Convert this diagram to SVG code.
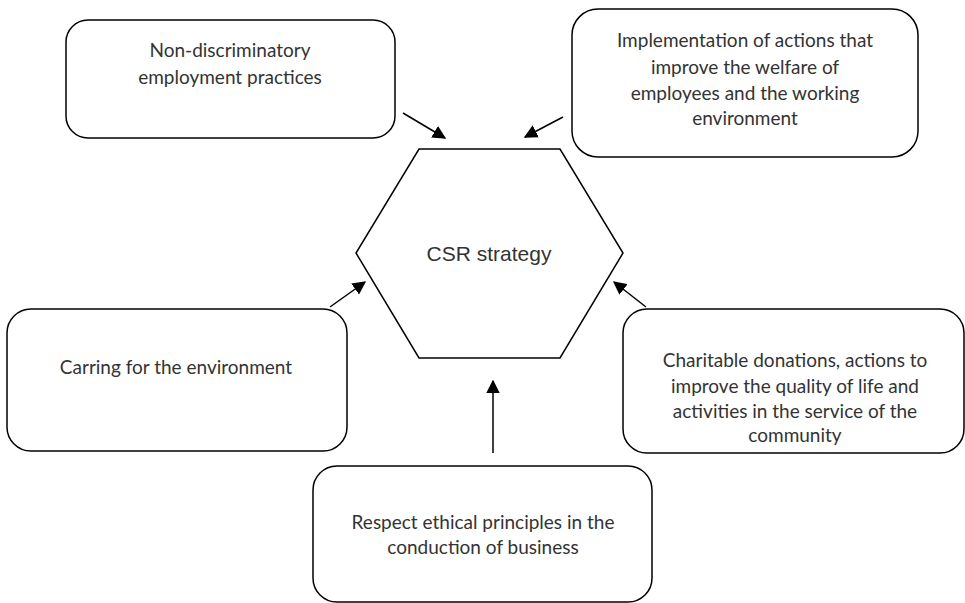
<svg xmlns="http://www.w3.org/2000/svg" width="965" height="603" viewBox="0 0 965 603">
<defs>
<style>
.box{fill:#fff;stroke:#000;stroke-width:1.5}
.t{font-family:Lato,"Open Sans","Liberation Sans",sans-serif;font-size:19px;fill:#333;text-anchor:middle}
.c{font-family:"Liberation Sans",Arial,sans-serif;font-size:21px;fill:#333;text-anchor:middle}
.ln{stroke:#000;stroke-width:1.5;fill:none;marker-end:url(#ah)}
</style>
<marker id="ah" viewBox="0 0 10 10" refX="9" refY="5" markerWidth="9" markerHeight="9" orient="auto" markerUnits="strokeWidth">
<path d="M0,0 L10,5 L0,10 z" fill="#000"/>
</marker>
</defs>
<rect width="965" height="603" fill="#fff"/>
<g id="connectors">
<line class="ln" x1="403" y1="113" x2="445" y2="138"/>
<line class="ln" x1="563" y1="117" x2="525" y2="137"/>
<line class="ln" x1="330" y1="307" x2="365" y2="282"/>
<line class="ln" x1="646" y1="307" x2="614" y2="282"/>
<line class="ln" x1="493" y1="453" x2="493" y2="381"/>
</g>
<g id="csr">
<polygon class="box" points="419,149 560,149 623,253 560,358 419,358 356,253"/>
<text class="c" x="489" y="261">CSR strategy</text>
</g>
<g id="non-discriminatory">
<rect class="box" x="66" y="20" width="329" height="118" rx="22"/>
<text class="t" x="230" y="57">Non-discriminatory</text>
<text class="t" x="230" y="84">employment practices</text>
</g>
<g id="implementation">
<rect class="box" x="572" y="9" width="346" height="148" rx="26"/>
<text class="t" x="745" y="47">Implementation of actions that</text>
<text class="t" x="745" y="74">improve the welfare of</text>
<text class="t" x="745" y="100">employees and the working</text>
<text class="t" x="745" y="125">environment</text>
</g>
<g id="environment">
<rect class="box" x="7" y="309" width="340" height="142" rx="24"/>
<text class="t" x="176" y="374">Carring for the environment</text>
</g>
<g id="charitable">
<rect class="box" x="623" y="309" width="341" height="144" rx="24"/>
<text class="t" x="795" y="367">Charitable donations, actions to</text>
<text class="t" x="795" y="393">improve the quality of life and</text>
<text class="t" x="795" y="418">activities in the service of the</text>
<text class="t" x="795" y="442">community</text>
</g>
<g id="ethics">
<rect class="box" x="313" y="466" width="339" height="136" rx="24"/>
<text class="t" x="483" y="529">Respect ethical principles in the</text>
<text class="t" x="483" y="554">conduction of business</text>
</g>
</svg>
